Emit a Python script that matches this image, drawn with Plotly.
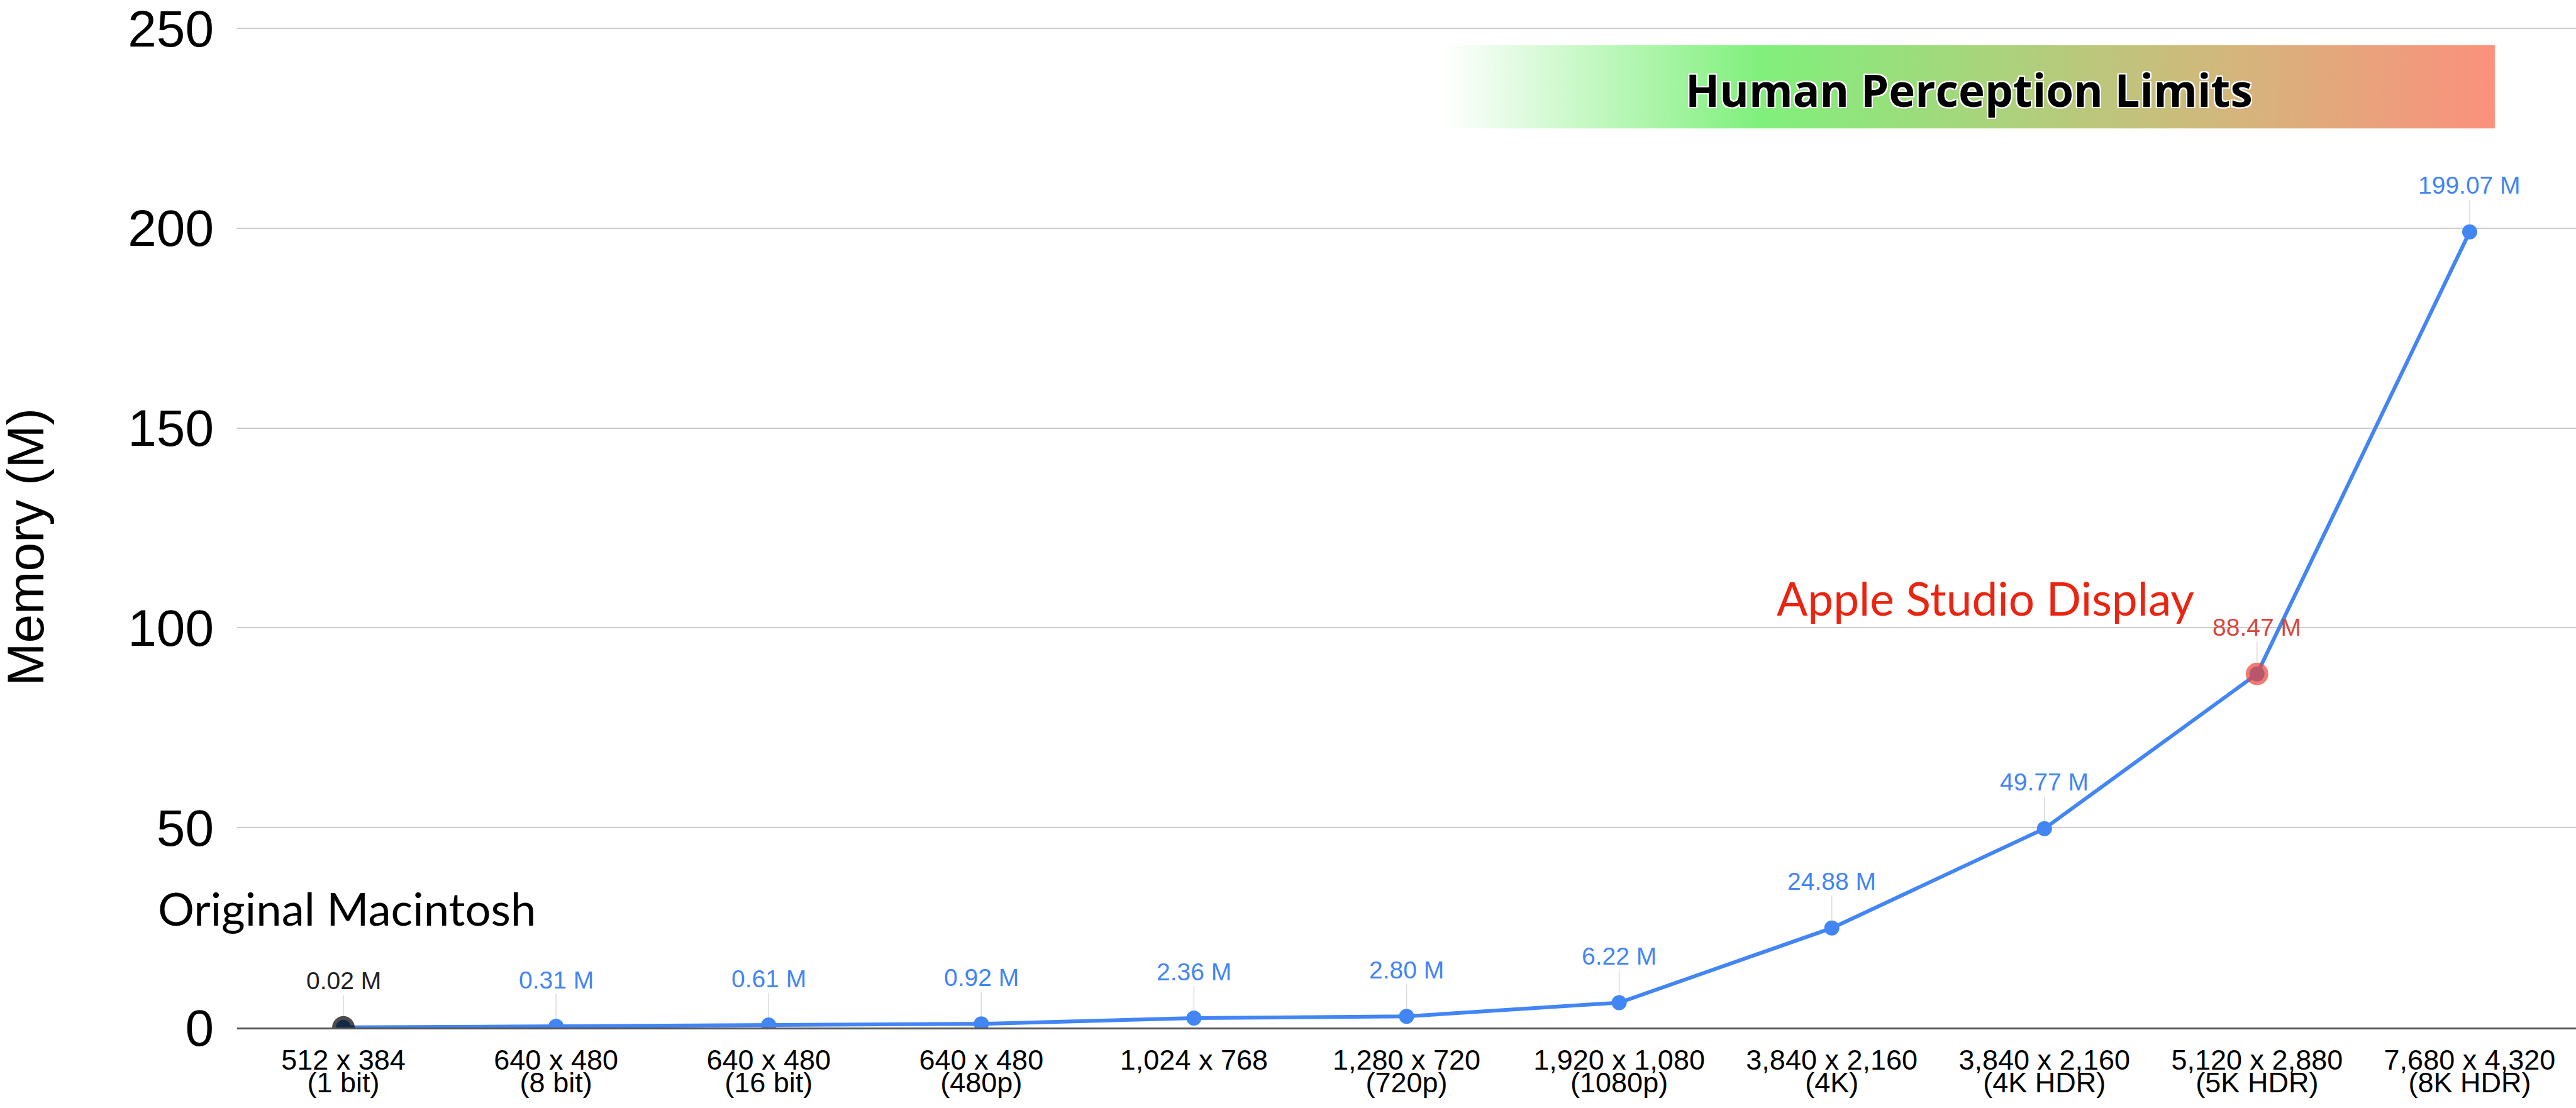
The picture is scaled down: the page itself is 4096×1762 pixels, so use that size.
import base64
import plotly.graph_objects as go

# Display resolutions and framebuffer memory
res_line1 = ["512 x 384", "640 x 480", "640 x 480", "640 x 480", "1,024 x 768",
             "1,280 x 720", "1,920 x 1,080", "3,840 x 2,160", "3,840 x 2,160",
             "5,120 x 2,880", "7,680 x 4,320"]
res_line2 = ["(1 bit)", "(8 bit)", "(16 bit)", "(480p)", "",
             "(720p)", "(1080p)", "(4K)", "(4K HDR)", "(5K HDR)", "(8K HDR)"]
memory_m = [0.02, 0.31, 0.61, 0.92, 2.36, 2.80, 6.22, 24.88, 49.77, 88.47, 199.07]
value_labels = ["0.02 M", "0.31 M", "0.61 M", "0.92 M", "2.36 M", "2.80 M",
                "6.22 M", "24.88 M", "49.77 M", "88.47 M", "199.07 M"]

# Highlighted machines: index into the series above
highlight_idx = [0, 9]
highlight_names = ["Original Macintosh", "Apple Studio Display"]

categories = [f"{a} {b}".strip() for a, b in zip(res_line1, res_line2)]

BLUE = "#4285f4"
RED = "#ea4335"
LABEL_RED = "#d9463a"
BLACK = "#000000"
AX_FONT = "Liberation Sans, Arial, sans-serif"
NOTE_FONT = "Lato, Open Sans, sans-serif"

fig = go.Figure()

fig.add_trace(go.Scatter(
    x=categories, y=memory_m, mode="lines+markers",
    line=dict(color=BLUE, width=6),
    marker=dict(color=BLUE, size=24, line=dict(width=0)),
    cliponaxis=True, hoverinfo="skip", showlegend=False,
))

hl_colors = [BLACK, RED]
hl_sizes = [36, 36]
fig.add_trace(go.Scatter(
    x=[categories[i] for i in highlight_idx],
    y=[memory_m[i] for i in highlight_idx],
    mode="markers",
    marker=dict(color=hl_colors, size=hl_sizes, line=dict(width=0)),
    cliponaxis=True, hoverinfo="skip", showlegend=False,
))

# Invisible copy on the secondary x axis that carries the second label row
fig.add_trace(go.Scatter(
    x=list(range(len(memory_m))), y=memory_m, xaxis="x2", mode="markers",
    marker=dict(opacity=0, size=1), hoverinfo="skip", showlegend=False,
))

# Value labels with leader lines
annotations = []
for i, (c, v, t) in enumerate(zip(categories, memory_m, value_labels)):
    if i == 0:
        col, rad = "#222222", 18
    elif i == 9:
        col, rad = LABEL_RED, 18
    else:
        col, rad = BLUE, 12
    annotations.append(dict(
        x=c, y=v, xref="x", yref="y", text=t,
        showarrow=True, arrowhead=0, arrowwidth=1.5, arrowcolor="#dadada",
        ax=0, ay=-74, standoff=rad,
        font=dict(family=AX_FONT, size=39, color=col),
    ))

# Axis title
annotations.append(dict(
    text="Memory (M)", xref="paper", yref="paper", x=-0.0905, y=0.4806,
    textangle=-90, showarrow=False, xanchor="center", yanchor="middle",
    font=dict(family=AX_FONT, size=82, color="#000000"),
))

# Callouts
annotations.append(dict(
    text=highlight_names[0], xref="paper", yref="y", x=-0.0344, y=29.9,
    xanchor="left", yanchor="middle", showarrow=False,
    font=dict(family=NOTE_FONT, size=72.5, color="#000000"),
))
annotations.append(dict(
    text=highlight_names[1], xref="paper", yref="y", x=0.6578, y=107.5,
    xanchor="left", yanchor="middle", showarrow=False,
    font=dict(family=NOTE_FONT, size=73, color="#ea2410"),
))
annotations.append(dict(
    text="Human Perception Limits", xref="paper", yref="y", x=0.7406, y=234.7,
    xanchor="center", yanchor="middle", showarrow=False,
    font=dict(family="Open Sans, Lato, sans-serif", size=71, color="#000000",
              weight="bold",
              shadow="2px 2px 0 #fff, -2px -2px 0 #fff, 2px -2px 0 #fff, -2px 2px 0 #fff"),
))

# Gradient band behind the perception-limit label
grad_stops = [(0.0, "#ffffff"), (0.30, "#80f07c"), (0.75, "#d4b67c"), (1.0, "#fc907c")]
stops = "".join(f'<stop offset="{o}" stop-color="{c}"/>' for o, c in grad_stops)
svg = ('<svg xmlns="http://www.w3.org/2000/svg" width="1000" height="100" '
       'viewBox="0 0 1000 100" preserveAspectRatio="none">'
       '<defs><linearGradient id="g" x1="0" y1="0" x2="1" y2="0">' + stops +
       '</linearGradient></defs><rect width="1000" height="100" fill="url(#g)"/></svg>')
src = "data:image/svg+xml;base64," + base64.b64encode(svg.encode()).decode()

fig.update_layout(
    width=4096, height=1762,
    margin=dict(l=377, r=0, t=40, b=128, pad=0),
    paper_bgcolor="white", plot_bgcolor="white",
    annotations=annotations,
    images=[dict(source=src, xref="paper", yref="y", x=0.5158, y=245.8,
                 sizex=0.4495, sizey=20.9, xanchor="left", yanchor="top",
                 sizing="stretch", layer="below")],
    xaxis=dict(
        type="category", categoryorder="array", categoryarray=categories,
        range=[-0.5, 10.5], tickmode="array", tickvals=categories, ticktext=res_line1,
        showgrid=False, zeroline=False, showline=True, linecolor="#555555",
        linewidth=3, ticks="", layer="below traces", ticklabelstandoff=10,
        tickfont=dict(family=AX_FONT, size=45, color="#000000"),
    ),
    xaxis2=dict(
        overlaying="x", anchor="y", side="bottom", range=[-0.5, 10.5],
        tickmode="array", tickvals=list(range(len(res_line2))), ticktext=res_line2,
        showgrid=False, zeroline=False, showline=False, ticks="",
        ticklabelstandoff=57,
        tickfont=dict(family=AX_FONT, size=45, color="#000000"),
    ),
    yaxis=dict(
        range=[0, 250.3], tickmode="array", tickvals=[0, 50, 100, 150, 200, 250],
        showgrid=True, gridcolor="#cccccc", gridwidth=2, zeroline=False,
        showline=False, ticks="", ticklabelstandoff=36, ticklabeloverflow="allow",
        tickfont=dict(family=AX_FONT, size=82, color="#000000"),
    ),
)

fig.write_html("out.html")
